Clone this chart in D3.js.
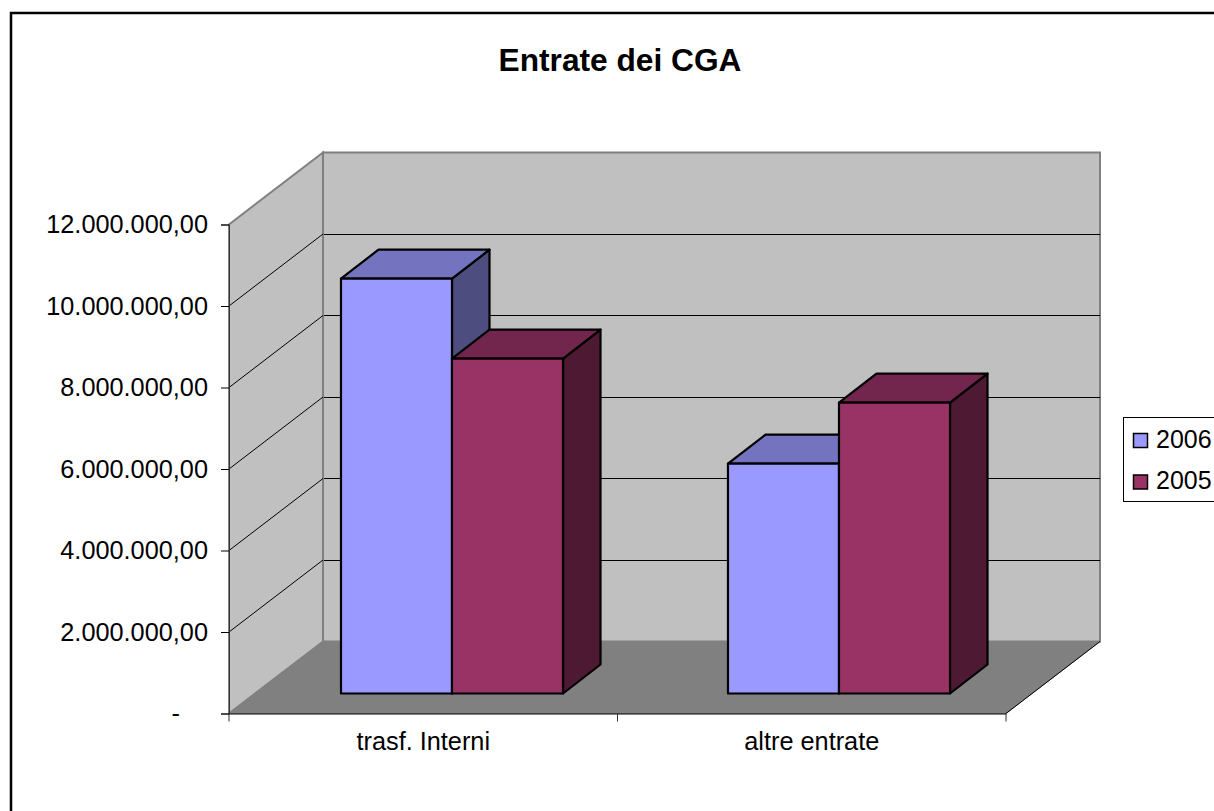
<!DOCTYPE html>
<html>
<head>
<meta charset="utf-8">
<script src="https://cdn.jsdelivr.net/npm/d3@7"></script>
<style>
  html, body { margin: 0; padding: 0; background: #fff; overflow: hidden; }
  text { font-family: "Liberation Sans", Arial, sans-serif; fill: #000; }
</style>
</head>
<body>
<svg width="1214" height="811"></svg>
<script>
  // DATA
  const categories = ["trasf. Interni", "altre entrate"];
  const seriesNames = ["2006", "2005"];
  const values2006 = [10180000, 5640000];
  const values2005 = [8220000, 7140000];
  const yTicks = [0, 2000000, 4000000, 6000000, 8000000, 10000000, 12000000];
  const yTickLabels = ["-", "2.000.000,00", "4.000.000,00", "6.000.000,00", "8.000.000,00", "10.000.000,00", "12.000.000,00"];
  const seriesValues = [values2006, values2005];
  const frontColors = ["#9999ff", "#993366"];
  const topColors = ["#7373bf", "#73264d"];
  const sideColors = ["#4d4d80", "#4d1933"];

  // SVG PARAMETERS
  const svg = d3.select("svg");
  const width = +svg.attr("width");
  const height = +svg.attr("height");
  const labelSize = 25.3;

  // SCALES
  const xScale = d3.scaleBand().domain(categories).range([229, 1006]);
  const xBar = d3.scaleBand().domain(categories).range([231, 1005]);
  const xInner = d3.scaleBand().domain(seriesNames).range([0, xBar.bandwidth()]).padding(0).paddingOuter(0.743);
  const yScale = d3.scaleLinear().domain([0, 12000000]).range([713.5, 224.5]);
  // depth runs from the front of the floor (0) to the back wall (1)
  const depthX = d3.scaleLinear().domain([0, 1]).range([0, 94]);
  const depthY = d3.scaleLinear().domain([0, 1]).range([0, -72]);
  const barFront = { x: 27.5, y: -20 };
  const barBack = { x: 65, y: -49 };

  const project = (x, y, d) => [x + depthX(d), y + depthY(d)];
  const shift = (x, y, o) => [x + o.x, y + o.y];
  const line = d3.line();
  const poly = (pts) => line(pts) + "Z";

  // CHART FRAME
  svg.append("rect")
    .attr("x", 11).attr("y", 13)
    .attr("width", width + 20).attr("height", height + 20)
    .attr("fill", "#fff").attr("stroke", "#000").attr("stroke-width", 2.5);

  svg.append("text")
    .attr("x", 620).attr("y", 71)
    .attr("text-anchor", "middle")
    .attr("font-size", 31.7).attr("font-weight", "bold")
    .text("Entrate dei CGA");

  const [x0, x1] = xScale.range();
  const y0 = yScale(0);
  const yMax = yScale(12000000);
  const g = svg.append("g");

  // WALLS AND FLOOR
  g.append("path")
    .attr("d", poly([project(x0, y0, 1), project(x1, y0, 1), project(x1, yMax, 1), project(x0, yMax, 1)]))
    .attr("fill", "#c0c0c0").attr("stroke", "#808080").attr("stroke-width", 2);
  g.append("path")
    .attr("d", poly([[x0, y0], project(x0, y0, 1), project(x0, yMax, 1), [x0, yMax]]))
    .attr("fill", "#c0c0c0").attr("stroke", "#808080").attr("stroke-width", 2);
  g.append("path")
    .attr("d", poly([[x0, y0], [x1, y0], project(x1, y0, 1), project(x0, y0, 1)]))
    .attr("fill", "#808080").attr("stroke", "#808080").attr("stroke-width", 1);

  // GRIDLINES
  yTicks.slice(1, -1).forEach((t) => {
    g.append("path")
      .attr("d", line([[x0, yScale(t)], project(x0, yScale(t), 1)]))
      .attr("fill", "none").attr("stroke", "#000").attr("stroke-width", 1);
    g.append("path")
      .attr("d", line([project(x0 + 1, yScale(t), 1), project(x1, yScale(t), 1)]))
      .attr("fill", "none").attr("stroke", "#000").attr("stroke-width", 1)
      .attr("shape-rendering", "crispEdges");
  });
  g.append("path")
    .attr("d", line([[x1, y0], project(x1, y0, 1)]))
    .attr("fill", "none").attr("stroke", "#000").attr("stroke-width", 1);

  // BARS
  categories.forEach((c, ci) => {
    seriesNames.forEach((s, si) => {
      const v = seriesValues[si][ci];
      const xa = xBar(c) + xInner(s);
      const xb = xa + xInner.bandwidth();
      const yv = yScale(v);
      const bar = g.append("g")
        .attr("stroke", "#000").attr("stroke-width", 2.2).attr("stroke-linejoin", "round");
      bar.append("path").attr("fill", sideColors[si])
        .attr("d", poly([shift(xb, y0, barFront), shift(xb, y0, barBack), shift(xb, yv, barBack), shift(xb, yv, barFront)]));
      bar.append("path").attr("fill", topColors[si])
        .attr("d", poly([shift(xa, yv, barFront), shift(xb, yv, barFront), shift(xb, yv, barBack), shift(xa, yv, barBack)]));
      bar.append("path").attr("fill", frontColors[si])
        .attr("d", poly([shift(xa, y0, barFront), shift(xb, y0, barFront), shift(xb, yv, barFront), shift(xa, yv, barFront)]));
    });
  });

  // Y AXIS
  const yAxis = d3.axisLeft(yScale)
    .tickValues(yTicks)
    .tickSize(8)
    .tickPadding(13)
    .tickFormat((d, i) => yTickLabels[i]);
  const yAxisG = g.append("g").attr("transform", `translate(${x0},0)`).call(yAxis);
  yAxisG.attr("font-family", null).attr("font-size", null);
  yAxisG.selectAll("text").attr("font-size", labelSize);
  yAxisG.selectAll(".tick line").attr("stroke", "#000");
  yAxisG.select(".domain").attr("stroke", "#333");
  yAxisG.selectAll(".tick text").filter((d) => d === 0).attr("x", -49);

  // X AXIS
  const xAxis = d3.axisBottom(xScale).tickSize(0).tickPadding(19);
  const xAxisG = g.append("g").attr("transform", `translate(0,${y0})`).call(xAxis);
  xAxisG.attr("font-family", null).attr("font-size", null);
  xAxisG.selectAll("text").attr("font-size", labelSize);
  xAxisG.select(".domain").attr("stroke", "#000");
  // ticks sit on the band edges, not the centres
  xAxisG.selectAll(".edge")
    .data([x0, xScale(categories[1]), x1])
    .enter()
    .append("line")
    .attr("class", "edge")
    .attr("x1", (d) => d).attr("x2", (d) => d)
    .attr("y1", 0).attr("y2", 8)
    .attr("stroke", "#333");

  // LEGEND
  const legend = svg.append("g");
  legend.append("rect")
    .attr("x", 1123.5).attr("y", 417.5)
    .attr("width", 120).attr("height", 84)
    .attr("fill", "#fff").attr("stroke", "#000");
  const legendY = d3.scalePoint().domain(seriesNames).range([440.5, 482]);
  seriesNames.forEach((s, i) => {
    legend.append("rect")
      .attr("x", 1133.5).attr("y", legendY(s) - 7)
      .attr("width", 14).attr("height", 14)
      .attr("fill", frontColors[i]).attr("stroke", "#000").attr("stroke-width", 1.5);
    legend.append("text")
      .attr("x", 1156).attr("y", legendY(s) + 7)
      .attr("font-size", 25)
      .text(s);
  });
</script>
</body>
</html>
